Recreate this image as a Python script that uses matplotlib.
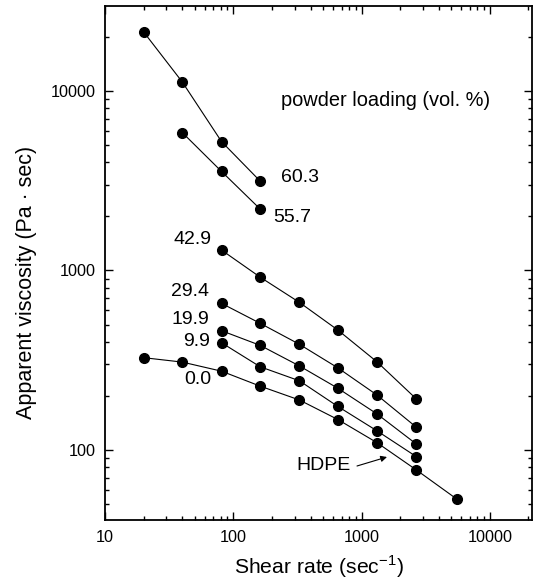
import matplotlib
matplotlib.use("Agg")
import matplotlib.pyplot as plt
from matplotlib.ticker import LogLocator, NullFormatter, FixedLocator, FixedFormatter

plt.rcParams['font.family'] = ['Liberation Sans', 'DejaVu Sans']

# Shear rate (1/s)
shear = [20, 40, 81, 162, 328, 653, 1318, 2674, 5494]

loadings = ["60.3", "55.7", "42.9", "29.4", "19.9", "9.9", "0.0"]

visc_603 = [21300, 11220, 5220, 3145]
x_603 = shear[0:4]
visc_557 = [5865, 3560, 2198]
x_557 = shear[1:4]
visc_429 = [1299, 918, 664, 466, 310, 192.5]
x_429 = shear[2:8]
visc_294 = [656, 508, 388, 287, 202.6, 134]
x_294 = shear[2:8]
visc_199 = [462, 383, 294, 221, 159, 108]
x_199 = shear[2:8]
visc_99 = [396, 291, 243, 175, 128, 91.9]
x_99 = shear[2:8]
visc_00 = [327, 309, 275, 227, 190, 148, 110, 77.5, 53.5]
x_00 = shear[0:9]

series = [(x_603, visc_603), (x_557, visc_557), (x_429, visc_429),
          (x_294, visc_294), (x_199, visc_199), (x_99, visc_99), (x_00, visc_00)]

fig = plt.figure(figsize=(5.37, 5.82), dpi=100)
ax = fig.add_axes([105/537, 62/582, 427/537, 514/582])

for xs, ys in series:
    ax.plot(xs, ys, '-', color='black', lw=0.8, marker='o', ms=7,
            mfc='black', mec='black')

ax.set_xscale('log')
ax.set_yscale('log')
ax.set_xlim(10, 21300)
ax.set_ylim(40.8, 29700)

ax.xaxis.set_major_locator(FixedLocator([10, 100, 1000, 10000]))
ax.xaxis.set_major_formatter(FixedFormatter(["10", "100", "1000", "10000"]))
ax.yaxis.set_major_locator(FixedLocator([100, 1000, 10000]))
ax.yaxis.set_major_formatter(FixedFormatter(["100", "1000", "10000"]))
ax.xaxis.set_minor_locator(LogLocator(base=10, subs=range(2, 10)))
ax.yaxis.set_minor_locator(LogLocator(base=10, subs=range(2, 10)))
ax.xaxis.set_minor_formatter(NullFormatter())
ax.yaxis.set_minor_formatter(NullFormatter())

ax.tick_params(which='both', direction='in', top=True, right=True,
               labelsize=11.7, width=1.0, color='black')
ax.tick_params(which='major', length=6, pad=7)
ax.tick_params(which='minor', length=3)
for s in ax.spines.values():
    s.set_linewidth(1.3)

ax.set_xlabel("Shear rate (sec$^{\\mathregular{-1}}$)", fontsize=15.2, labelpad=6)
ax.set_ylabel("Apparent viscosity (Pa \u00b7 sec)", fontsize=15.5)
ax.yaxis.set_label_coords(-0.16, 0.463)

def frac(px, py):
    return ((px - 105) / 427, (520 - py) / 514)

label_pos = {
    "60.3": (300, 177),
    "55.7": (292, 218),
    "42.9": (192, 240),
    "29.4": (190, 291),
    "19.9": (190, 319),
    "9.9": (197, 342),
    "0.0": (198, 379),
}
for lab in loadings:
    fx, fy = frac(*label_pos[lab])
    ax.text(fx, fy, lab, transform=ax.transAxes, ha='center', va='center',
            fontsize=14)

fx, fy = frac(386, 100)
ax.text(fx, fy, "powder loading (vol. %)", transform=ax.transAxes,
        ha='center', va='center', fontsize=14.4)

fx, fy = frac(323, 466)
tx, ty = frac(387, 457)
sx, sy = frac(357, 466)
ax.text(fx, fy, "HDPE", transform=ax.transAxes, ha='center', va='center', fontsize=14)
ax.annotate("", xy=(tx, ty), xytext=(sx, sy), xycoords='axes fraction',
            textcoords='axes fraction',
            arrowprops=dict(arrowstyle='-|>', color='black', lw=0.8,
                            mutation_scale=9, shrinkA=0, shrinkB=0))

fig.savefig("out.png", dpi=100)
